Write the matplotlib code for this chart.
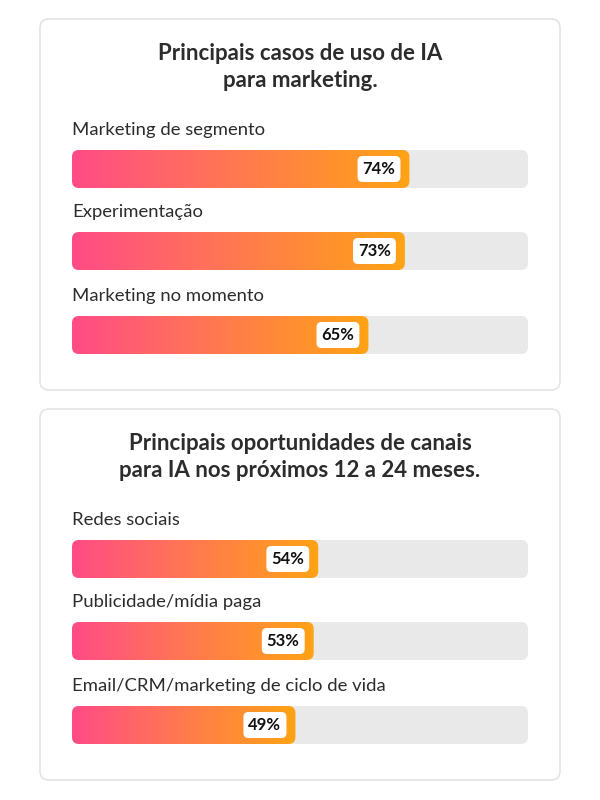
import numpy as np
import matplotlib
matplotlib.use("Agg")
import matplotlib.pyplot as plt
from matplotlib.patches import FancyBboxPatch
from matplotlib.colors import LinearSegmentedColormap
from matplotlib.transforms import offset_copy

# ---- data ----
title1 = "Principais casos de uso de IA\npara marketing."
categories1 = ["Marketing de segmento", "Experimentação", "Marketing no momento"]
values1 = [74, 73, 65]

title2 = "Principais oportunidades de canais\npara IA nos próximos 12 a 24 meses."
categories2 = ["Redes sociais", "Publicidade/mídia paga", "Email/CRM/marketing de ciclo de vida"]
values2 = [54, 53, 49]

FONT = "Lato"
TXT = "#2c2c2c"
cmap = LinearSegmentedColormap.from_list("g", ["#ff4b87", "#ff7a4f", "#ffa314"])

W, H = 600, 800
fig = plt.figure(figsize=(6, 8), dpi=100)
fig.patch.set_facecolor("white")

# background axes in pixel coordinates
bg = fig.add_axes([0, 0, 1, 1])
bg.set_xlim(0, W)
bg.set_ylim(H, 0)
bg.axis("off")

# bar axes: x in percent, y in pixels
ax = fig.add_axes([72 / W, 0, 456 / W, 1])
ax.set_xlim(0, 100)
ax.set_ylim(H, 0)
ax.axis("off")
ppx = 456 / 100.0  # pixels per percent

cards = [
    dict(top=19, bottom=390, title=title1, title_y=67, cats=categories1, vals=values1,
         label_y=[130, 212, 296], bar_y=[150, 232, 316]),
    dict(top=409, bottom=780, title=title2, title_y=457, cats=categories2, vals=values2,
         label_y=[520, 602, 686], bar_y=[540, 622, 706]),
]

bar_h = 38
rad = 7
grad = np.linspace(0, 1, 256).reshape(1, -1)

for c in cards:
    card = FancyBboxPatch((40, c["top"]), 520, c["bottom"] - c["top"],
                          boxstyle="round,pad=0,rounding_size=9",
                          fc="white", ec="#e4e4e4", lw=1.2, zorder=0)
    bg.add_patch(card)
    bg.text(300, c["title_y"], c["title"], ha="center", va="center",
            fontsize=16, fontweight="bold", family=FONT, color=TXT,
            linespacing=1.35)
    for cat, v, ly, by in zip(c["cats"], c["vals"], c["label_y"], c["bar_y"]):
        ax.text(0, ly, cat, ha="left", va="center", fontsize=13.3,
                family=FONT, color=TXT)
        track = FancyBboxPatch((0, by), 100, bar_h,
                               boxstyle=f"round,pad=0,rounding_size={rad / ppx}",
                               mutation_aspect=ppx, fc="#e9e9e9", ec="none", zorder=1)
        ax.add_patch(track)
        barp = FancyBboxPatch((0, by), v, bar_h,
                              boxstyle=f"round,pad=0,rounding_size={rad / ppx}",
                              mutation_aspect=ppx, fc="none", ec="none", zorder=2)
        ax.add_patch(barp)
        im = ax.imshow(grad, cmap=cmap, extent=[0, v, by + bar_h, by],
                       aspect="auto", zorder=2, interpolation="bilinear")
        im.set_clip_path(barp)
        tr = offset_copy(ax.transData, fig=fig, x=-14, y=0, units="dots")
        ax.text(v, by + bar_h / 2, f"{v}%", transform=tr, ha="right", va="center",
                fontsize=12, fontweight="bold", family=FONT, color="#111111", zorder=4,
                bbox=dict(boxstyle="round,pad=0.3,rounding_size=0.3",
                          fc="white", ec="none"))

ax.set_xlim(0, 100)
ax.set_ylim(H, 0)
fig.savefig("out.png", dpi=100, facecolor="white")
